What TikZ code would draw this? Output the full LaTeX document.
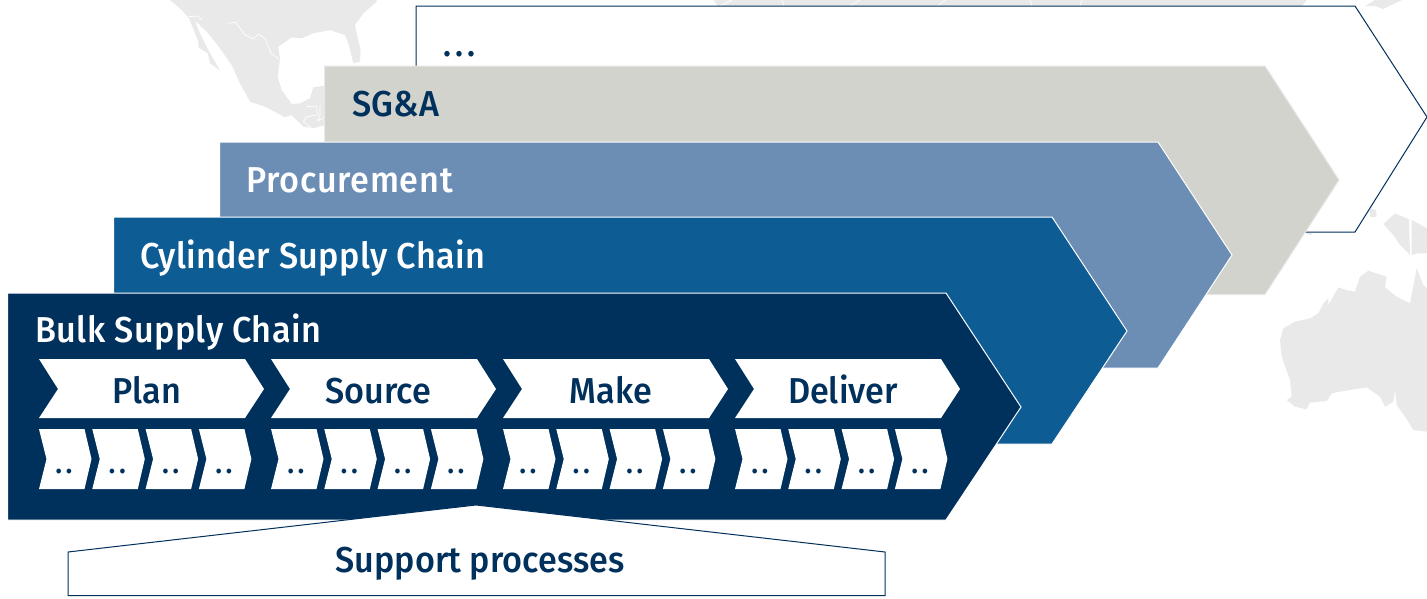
\documentclass[tikz,border=0pt]{standalone}
\usepackage{fontspec}
\setmainfont[FakeStretch=0.95]{Fira Sans Medium}
\definecolor{navy}{HTML}{00305C}
\definecolor{cyl}{HTML}{0E5C94}
\definecolor{proc}{HTML}{6C8EB5}
\definecolor{sga}{HTML}{D1D3CC}
\definecolor{mapg}{HTML}{E9E9E9}
\newcommand{\bigtxt}{\fontsize{36}{40}\selectfont}
\newcommand{\twodots}{\fontsize{30}{30}\selectfont.\kern3.5pt.}
\newcommand{\threedots}{\fontsize{35}{35}\selectfont.\kern4pt.\kern4pt.}
\tikzset{
  mapshape/.style={fill=mapg,draw=none},
  mapline/.style={draw=white,line width=0.7pt},
  band/.style={line width=1pt,line join=miter},
  label/.style={inner sep=0pt,anchor=base west,font=\bigtxt},
  clabel/.style={inner sep=0pt,anchor=base,font=\bigtxt,text=navy},
  whitechev/.style={fill=white,draw=none},
  dotlabel/.style={inner sep=0pt,anchor=base,text=navy}
}
\begin{document}
\begin{tikzpicture}[x=1pt,y=-1pt]
\useasboundingbox (0,0) rectangle (1427,598);
% background map
\begin{scope}[shift={(165,0)},scale=0.33333]
\fill[mapshape] (15,0)--(50,30)--(72,55)--(100,125)--(100,142)--(128,160)--(135,190)--(165,212)--(130,150)--(105,100)--(90,62)--(130,100)--(165,145)--(200,195)--(225,250)--(255,305)--(300,320)--(360,352)--(378,345)--(400,365)--(415,380)--(445,385)--(480,375)--(490,255)--(445,262)--(435,295)--(405,310)--(380,312)--(350,270)--(338,230)--(345,175)--(340,140)--(380,112)--(410,115)--(445,100)--(470,95)--(495,90)--(540,105)--(550,130)--(565,190)--(585,185)--(587,150)--(575,100)--(570,75)--(595,40)--(635,5)--(635,0)--cycle;
\draw[mapline] (70,50)--(100,48)--(110,60);
\draw[mapline] (187,70)--(212,67)--(240,105)--(265,117)--(280,103)--(300,115)--(318,160)--(343,178);
\draw[mapline] (425,320)--(455,318)--(457,345)--(425,350)--(415,365)--(440,385);
\draw[mapline] (465,315)--(465,345)--(458,362)--(480,352);
\end{scope}
\fill[mapshape] (713,0)--(718,6)--(1302,6)--(1307,0)--cycle;
\draw[mapline] (732,0)--(720,6) (782,0)--(784,6) (860,0)--(850,6) (945,0)--(938,6) (1030,0)--(1032,6) (1082,0)--(1080,6);
\fill[mapshape] (1365,6)--(1375,0)--(1402,0)--(1383,9)--(1375,6)--cycle;
\begin{scope}[shift={(1260,200)},scale=0.33333]
\fill[mapshape] (60,420)--(70,385)--(105,365)--(150,355)--(175,340)--(190,310)--(205,295)--(205,315)--(235,262)--(265,272)--(285,275)--(300,230)--(325,212)--(380,230)--(375,262)--(410,290)--(450,310)--(470,205)--(490,255)--(501,265)--(501,695)--(460,690)--(435,650)--(410,615)--(405,570)--(400,605)--(375,620)--(360,590)--(320,562)--(240,575)--(215,580)--(200,603)--(150,608)--(140,628)--(105,620)--(80,600)--(95,590)--(90,540)--(65,470)--cycle;
\fill[mapshape] (370,72)--(405,40)--(447,58)--(450,165)--(435,150)--(420,135)--(400,105)--cycle;
\fill[mapshape] (455,60)--(501,85)--(501,160)--(475,160)--(455,165)--cycle;
\fill[mapshape] (330,25)--(348,30)--(350,50)--(330,52)--cycle;
\fill[mapshape] (135,98)--(157,98)--(155,105)--(142,103)--cycle;
\end{scope}
% stacked bands
\draw[band,fill=white,draw=navy] (416,6)--(1355,6)--(1427,117)--(1355,232)--(416,232)--cycle;
\draw[band,fill=sga,draw=sga!50!white] (324.5,66)--(1265,66)--(1339,180)--(1265,294.5)--(324.5,294.5)--cycle;
\draw[band,fill=proc,draw=white] (219.5,142)--(1158,142)--(1232,255)--(1158,368)--(219.5,368)--cycle;
\draw[band,fill=cyl,draw=white] (113.5,217)--(1052,217)--(1127,331)--(1052,444)--(113.5,444)--cycle;
\draw[band,fill=navy,draw=white] (7.5,293)--(946,293)--(1021,407)--(946,520)--(7.5,520)--cycle;
% support processes
\draw[band,fill=white,draw=navy] (68,552)--(476,505)--(885,552)--(885,595.5)--(68,595.5)--cycle;
% process chevrons
\foreach \x in {39,271,503,735}{
  \fill[whitechev] (\x,359)--({\x+206},359)--({\x+225},389)--({\x+206},418)--(\x,418)--({\x+19},389)--cycle;
  \foreach \k in {0,1,2,3}{
    \pgfmathsetmacro{\xs}{\x+53.3*\k}
    \fill[whitechev] (\xs,429)--({\xs+45.5},429)--({\xs+52.5},459)--({\xs+45.5},489)--(\xs,489)--({\xs+7.5},459)--cycle;
    \node[dotlabel] at ({\xs+25},473.5) {\twodots};
  }
}
% labels
\node[label,text=navy] (more) at (443.5,56) {\threedots};
\node[label,text=navy] (sga) at (352.5,116) {SG\&A};
\node[label,text=white] (procurement) at (246,192) {\addfontfeature{LetterSpace=2}Procurement};
\node[label,text=white] (cylinder) at (140,268) {\addfontfeature{LetterSpace=1.1}Cylinder Supply Chain};
\node[label,text=white] (bulk) at (35,342) {\addfontfeature{LetterSpace=1.2}Bulk Supply Chain};
\node[clabel] (plan) at (147,403) {Plan};
\node[clabel] (source) at (378.5,403) {Source};
\node[clabel] (make) at (611,403) {Make};
\node[clabel] (deliver) at (843,403) {Deliver};
\node[clabel] (support) at (480,572) {Support processes};
\end{tikzpicture}
\end{document}
